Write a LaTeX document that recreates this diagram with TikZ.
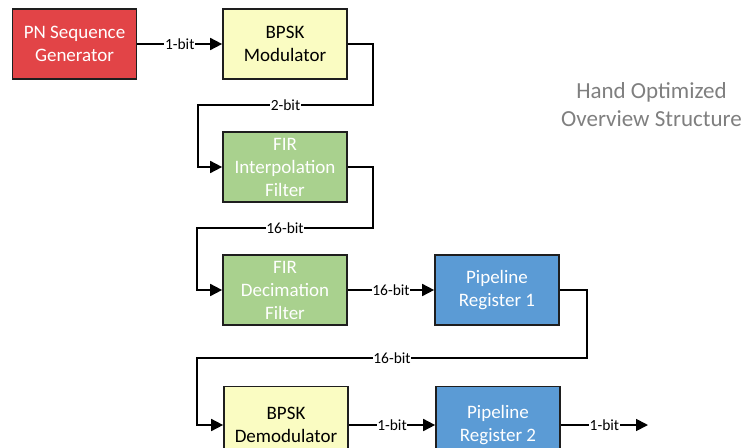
\documentclass[tikz,border=0pt]{standalone}
\usepackage{fontspec}
\setmainfont{Carlito}
\usetikzlibrary{arrows.meta,calc}

\definecolor{pnred}{HTML}{E24447}
\definecolor{bpskyellow}{HTML}{FAFCC2}
\definecolor{firgreen}{HTML}{A9D18E}
\definecolor{regblue}{HTML}{5B9BD5}
\definecolor{titlegray}{HTML}{7F7F7F}
\definecolor{edge}{HTML}{1E1E1E}

\tikzset{
  x=1pt, y=-1pt,
  block/.style={draw=edge, line width=1.7pt, minimum width=124pt, minimum height=70pt,
    align=center, inner sep=2pt, font=\fontsize{19}{23}\selectfont},
  redblock/.style={block, fill=pnred, text=white},
  yellowblock/.style={block, fill=bpskyellow, text=black},
  greenblock/.style={block, fill=firgreen, text=white},
  blueblock/.style={block, fill=regblue, text=white},
  wire/.style={line width=1.7pt, draw=black, -{Triangle[length=12pt,width=12pt]}},
  bits/.style={fill=white, inner sep=0.6pt, font=\fontsize{15.5}{15.5}\selectfont, text=black},
}

\begin{document}
\begin{tikzpicture}
\useasboundingbox (0,0) rectangle (743,447);
\clip (0,0) rectangle (743,447);

% processing blocks
\node[redblock]    (pn)     at (74.5,44)  {PN Sequence\\Generator};
\node[yellowblock] (mod)    at (285,44)   {BPSK\\Modulator};
\node[greenblock]  (interp) at (285,167)  {FIR\\Interpolation\\Filter};
\node[greenblock]  (dec)    at (285,290)  {FIR\\Decimation\\Filter};
\node[blueblock]   (reg1)   at (497,290)  {Pipeline\\Register 1};
\node[yellowblock, minimum height=77pt] (demod) at (286,425) {BPSK\\Demodulator};
\node[blueblock, minimum height=77pt]   (reg2)  at (498,425) {Pipeline\\Register 2};

% caption
\node[text=titlegray, align=center, font=\fontsize{23}{28}\selectfont] (title) at (651.5,105)
  {Hand Optimized\\Overview Structure};

% routing points of the wrap-around wires
\coordinate (a1) at (373,105);
\coordinate (a2) at (198,105);
\coordinate (b1) at (373,228);
\coordinate (b2) at (197,228);
\coordinate (c1) at (587,358);
\coordinate (c2) at (197,358);
\coordinate (out) at (648,425);

% wires
\draw[wire] (pn.east) -- node[bits] {1-bit} (mod.west);
\draw[wire] (mod.east) -| (a1) -- node[bits] {2-bit} (a2) |- (interp.west);
\draw[wire] (interp.east) -| (b1) -- node[bits] {16-bit} (b2) |- (dec.west);
\draw[wire] (dec.east) -- node[bits] {16-bit} (reg1.west);
\draw[wire] (reg1.east) -| (c1) -- node[bits] {16-bit} (c2) |- (demod.west);
\draw[wire] (demod.east) -- node[bits] {1-bit} (reg2.west);
\draw[wire] (reg2.east) -- node[bits] {1-bit} (out);
\end{tikzpicture}
\end{document}
